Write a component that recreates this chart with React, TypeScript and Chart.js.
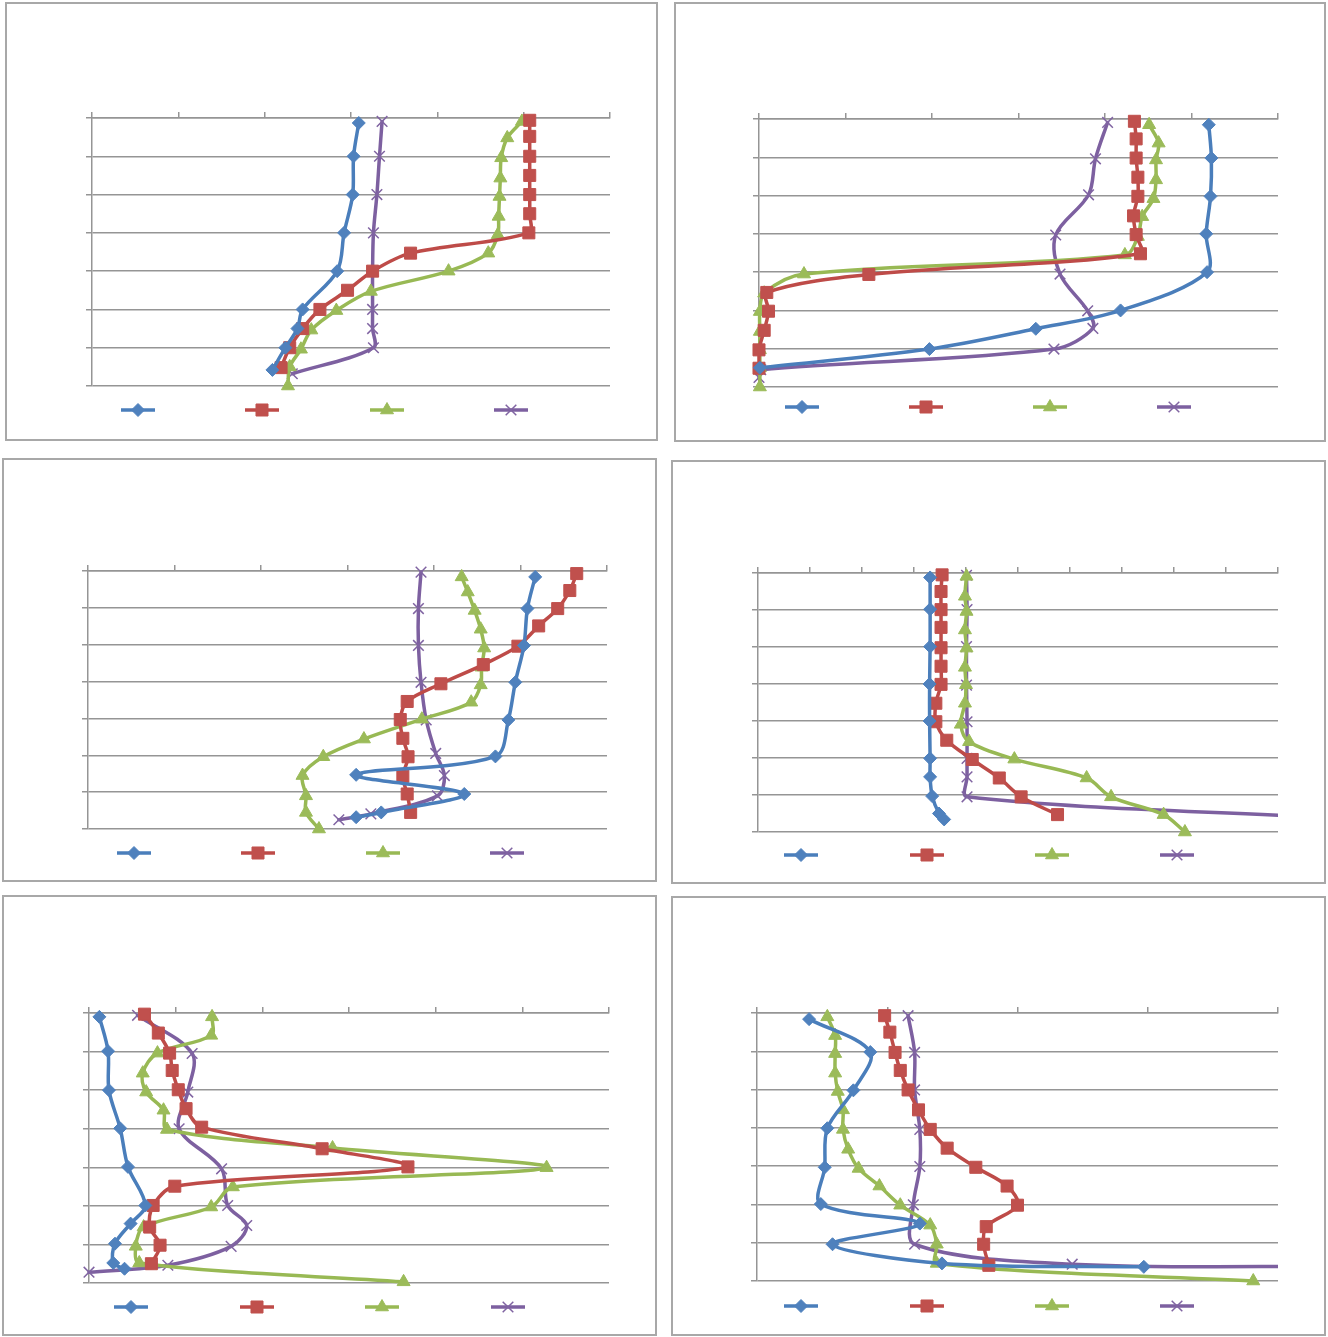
import React, { useEffect, useRef } from 'react';
import { Chart, registerables } from 'chart.js';
import { drawPoint } from 'chart.js/helpers';

Chart.register(...registerables);

// ---------- DATA (x in axis-interval units, y = depth in gridline units, 0 at top) ----------
const P1_BLUE = [[3.09,0.13],[3.03,1.0],[3.02,2.0],[2.92,3.0],[2.84,4.0],[2.44,5.0],[2.38,5.5],[2.24,6.0],[2.09,6.58]];
const P1_RED = [[5.07,0.06],[5.07,0.48],[5.07,1.0],[5.07,1.5],[5.07,2.0],[5.07,2.5],[5.06,3.0],[3.69,3.53],[3.25,4.0],[2.96,4.5],[2.64,5.0],[2.44,5.5],[2.29,6.0],[2.19,6.52]];
const P1_GREEN = [[4.98,0.09],[4.81,0.52],[4.74,1.04],[4.73,1.57],[4.72,2.05],[4.71,2.57],[4.70,3.05],[4.59,3.53],[4.13,4.0],[3.23,4.53],[2.83,5.03],[2.54,5.54],[2.42,6.04],[2.29,6.5],[2.27,7.0]];
const P1_PURPLE = [[3.36,0.09],[3.33,1.0],[3.30,2.0],[3.26,3.0],[3.25,4.0],[3.25,5.0],[3.25,5.5],[3.26,6.0],[2.32,6.68]];

const P2_BLUE = [[5.20,0.15],[5.23,1.02],[5.22,2.02],[5.17,3.0],[5.18,4.0],[4.18,5.0],[3.20,5.48],[1.97,6.01],[0.01,6.5]];
const P2_RED = [[4.34,0.06],[4.36,0.52],[4.36,1.02],[4.38,1.52],[4.38,2.02],[4.33,2.53],[4.36,3.02],[4.41,3.52],[1.27,4.06],[0.09,4.53],[0.11,5.02],[0.06,5.52],[0.0,6.03],[0.0,6.51]];
const P2_GREEN = [[4.51,0.15],[4.62,0.63],[4.59,1.07],[4.59,1.59],[4.56,2.08],[4.43,2.55],[4.38,3.07],[4.23,3.55],[0.52,4.05],[0.06,4.55],[0.01,5.03],[0.01,5.55],[0.01,6.03],[0.01,6.5],[0.01,7.0]];
const P2_PURPLE = [[4.03,0.09],[3.89,1.04],[3.81,1.98],[3.43,3.03],[3.48,4.05],[3.80,5.01],[3.86,5.47],[3.41,6.01],[0.02,6.55],[0.0,6.75]];

const P3_BLUE = [[5.17,0.16],[5.08,1.02],[5.04,2.02],[4.94,3.02],[4.86,4.04],[4.71,5.03],[3.10,5.53],[4.35,6.05],[3.39,6.55],[3.10,6.68]];
const P3_RED = [[5.65,0.07],[5.57,0.53],[5.43,1.02],[5.21,1.49],[4.97,2.04],[4.57,2.54],[4.08,3.06],[3.69,3.54],[3.61,4.03],[3.64,4.54],[3.70,5.04],[3.64,5.57],[3.69,6.05],[3.73,6.55]];
const P3_GREEN = [[4.32,0.16],[4.39,0.57],[4.47,1.07],[4.54,1.58],[4.58,2.09],[4.55,2.61],[4.54,3.09],[4.43,3.56],[3.86,4.02],[3.19,4.56],[2.72,5.04],[2.48,5.55],[2.52,6.1],[2.52,6.55],[2.67,7.0]];
const P3_PURPLE = [[3.85,0.03],[3.82,1.02],[3.82,2.02],[3.85,3.02],[3.91,4.04],[4.02,4.95],[4.12,5.55],[4.04,6.1],[3.27,6.59],[2.90,6.75]];

const P4_BLUE = [[3.31,0.12],[3.31,0.98],[3.31,1.99],[3.30,3.0],[3.30,4.0],[3.31,5.01],[3.31,5.51],[3.35,6.03],[3.48,6.5],[3.58,6.66]];
const P4_RED = [[3.54,0.05],[3.52,0.5],[3.52,0.99],[3.52,1.47],[3.52,2.02],[3.52,2.52],[3.52,3.01],[3.42,3.52],[3.42,4.02],[3.63,4.52],[4.12,5.04],[4.64,5.54],[5.06,6.05],[5.76,6.53]];
const P4_GREEN = [[4.01,0.09],[3.98,0.63],[4.01,1.04],[3.98,1.54],[4.01,2.03],[3.98,2.55],[4.0,3.02],[3.98,3.52],[3.90,4.09],[4.06,4.56],[4.93,5.03],[6.32,5.54],[6.79,6.05],[7.80,6.53],[8.21,7.0]];
const P4_PURPLE = [[4.01,0.06],[4.02,0.99],[4.01,1.99],[4.01,3.03],[4.02,4.02],[4.02,5.01],[4.02,5.51],[4.02,6.05],[11.0,6.62]];

const P5_BLUE = [[0.12,0.10],[0.22,0.99],[0.23,2.0],[0.36,2.99],[0.45,3.99],[0.65,4.99],[0.48,5.46],[0.30,5.98],[0.28,6.48],[0.41,6.63]];
const P5_RED = [[0.64,0.03],[0.80,0.52],[0.93,1.04],[0.96,1.49],[1.03,1.99],[1.12,2.48],[1.30,2.96],[2.69,3.52],[3.68,3.99],[0.99,4.49],[0.74,4.99],[0.70,5.55],[0.82,6.02],[0.72,6.5]];
const P5_GREEN = [[1.42,0.10],[1.41,0.58],[0.79,1.04],[0.62,1.56],[0.66,2.05],[0.86,2.52],[0.90,3.02],[2.81,3.5],[5.28,4.01],[1.66,4.51],[1.41,5.03],[0.63,5.55],[0.54,6.05],[0.58,6.48],[3.63,6.97]];
const P5_PURPLE = [[0.56,0.06],[1.19,1.05],[1.14,2.05],[1.04,3.0],[1.53,4.04],[1.60,4.99],[1.82,5.51],[1.64,6.05],[0.91,6.54],[0.0,6.72]];

const P6_BLUE = [[0.40,0.16],[0.87,1.02],[0.74,2.02],[0.54,3.01],[0.52,4.03],[0.49,4.99],[1.25,5.5],[0.58,6.04],[1.42,6.54],[2.97,6.63]];
const P6_RED = [[0.98,0.07],[1.02,0.5],[1.06,1.03],[1.10,1.5],[1.16,2.01],[1.24,2.53],[1.33,3.04],[1.46,3.53],[1.68,4.03],[1.92,4.52],[2.00,5.02],[1.76,5.58],[1.74,6.04],[1.78,6.59]];
const P6_GREEN = [[0.54,0.10],[0.60,0.59],[0.60,1.06],[0.60,1.57],[0.62,2.05],[0.66,2.53],[0.66,3.04],[0.70,3.56],[0.78,4.06],[0.94,4.52],[1.10,5.02],[1.33,5.54],[1.38,6.04],[1.38,6.54],[3.81,7.0]];
const P6_PURPLE = [[1.16,0.07],[1.21,1.03],[1.21,2.01],[1.25,3.04],[1.25,4.01],[1.20,5.01],[1.21,6.04],[2.42,6.56],[4.6,6.62]];

const SERIES_NAMES = ['Series 1', 'Series 2', 'Series 3', 'Series 4'];
const X_INTERVALS = [6, 6, 6, 10, 6, 4];
const Y_INTERVALS = 7;

// ---------- STYLE / LAYOUT ----------
const SERIES_STYLE = [
  { line: '#4A7EBB', fill: '#4F81BD', point: 'rectRot', radius: 6.5, bw: 1 },
  { line: '#BE4B48', fill: '#C0504D', point: 'rect', radius: 8.5, bw: 1 },
  { line: '#98B954', fill: '#9BBB59', point: 'triangle', radius: 7.5, bw: 1 },
  { line: '#7D60A0', fill: '#8064A2', point: 'crossRot', radius: 7.5, bw: 1.5 },
];
const GRID = '#959595';

type Panel = {
  data: number[][][];
  xMax: number;
  box: [number, number, number, number]; // left, top, right, bottom (page)
  plot: [number, number, number, number];
  legendY: number;
  legendXs: number[];
};

const PANELS: Panel[] = [
  { data: [P1_BLUE, P1_RED, P1_GREEN, P1_PURPLE], xMax: X_INTERVALS[0], box: [5, 2, 658, 441], plot: [92, 118, 610, 386], legendY: 410, legendXs: [138, 262, 387, 511] },
  { data: [P2_BLUE, P2_RED, P2_GREEN, P2_PURPLE], xMax: X_INTERVALS[1], box: [674, 2, 1326, 442], plot: [759, 119, 1278, 387], legendY: 407, legendXs: [802, 926, 1050, 1174] },
  { data: [P3_BLUE, P3_RED, P3_GREEN, P3_PURPLE], xMax: X_INTERVALS[2], box: [2, 458, 657, 882], plot: [88, 571, 607, 829], legendY: 853, legendXs: [134, 258, 383, 507] },
  { data: [P4_BLUE, P4_RED, P4_GREEN, P4_PURPLE], xMax: X_INTERVALS[3], box: [671, 460, 1326, 884], plot: [758, 573, 1278, 832], legendY: 855, legendXs: [801, 927, 1052, 1177] },
  { data: [P5_BLUE, P5_RED, P5_GREEN, P5_PURPLE], xMax: X_INTERVALS[4], box: [2, 895, 657, 1336], plot: [89, 1013, 609, 1283], legendY: 1307, legendXs: [131, 257, 382, 508] },
  { data: [P6_BLUE, P6_RED, P6_GREEN, P6_PURPLE], xMax: X_INTERVALS[5], box: [671, 896, 1326, 1336], plot: [757, 1013, 1278, 1281], legendY: 1306, legendXs: [801, 927, 1052, 1177] },
];

const sampleLegend = {
  id: 'sampleLegend',
  afterDraw(chart: any, _args: any, opts: any) {
    const ctx = chart.ctx;
    chart.data.datasets.forEach((ds: any, i: number) => {
      const cx = opts.xs[i];
      const cy = opts.y;
      ctx.save();
      ctx.strokeStyle = ds.borderColor;
      ctx.lineWidth = ds.borderWidth;
      ctx.beginPath();
      ctx.moveTo(cx - 17, cy);
      ctx.lineTo(cx + 17, cy);
      ctx.stroke();
      ctx.fillStyle = ds.pointBackgroundColor;
      ctx.strokeStyle = ds.pointBorderColor;
      ctx.lineWidth = ds.pointBorderWidth;
      drawPoint(ctx, { pointStyle: ds.pointStyle, radius: ds.pointRadius, rotation: 0, borderWidth: ds.pointBorderWidth }, cx, cy);
      ctx.restore();
    });
  },
};

function PanelChart({ p }: { p: Panel }) {
  const ref = useRef<HTMLCanvasElement>(null);
  const [bl, bt, br, bb] = p.box;
  const w = br - bl;
  const h = bb - bt;
  useEffect(() => {
    const [pl, pt, pr, pb] = p.plot;
    const leftW = pl - bl;
    const topH = pt - bt;
    const chart = new Chart(ref.current!, {
      type: 'scatter',
      data: {
        datasets: p.data.map((pts, i) => {
          const s = SERIES_STYLE[i];
          return {
            label: SERIES_NAMES[i],
            data: pts.map(([x, y]) => ({ x, y })),
            showLine: true,
            borderColor: s.line,
            borderWidth: 3.5,
            borderJoinStyle: 'round',
            borderCapStyle: 'round',
            tension: 0.33,
            pointStyle: s.point as any,
            pointRadius: s.radius,
            pointBackgroundColor: s.fill,
            pointBorderColor: s.fill,
            pointBorderWidth: s.bw,
            clip: { left: 12, top: 12, bottom: 12, right: 0 },
          } as any;
        }),
      },
      options: {
        animation: false,
        responsive: false,
        events: [],
        layout: { padding: { left: 0, top: 0, right: w - (pr - bl), bottom: h - (pb - bt) }, autoPadding: false } as any,
        plugins: {
          legend: { display: false },
          tooltip: { enabled: false },
          sampleLegend: { y: p.legendY - bt, xs: p.legendXs.map((x) => x - bl) },
        } as any,
        scales: {
          x: {
            type: 'linear',
            position: 'top',
            min: 0,
            max: p.xMax,
            ticks: { display: false, stepSize: 1 },
            grid: { drawOnChartArea: false, drawTicks: true, tickLength: 6, color: GRID, lineWidth: 1.5 },
            border: { display: true, color: GRID, width: 1.5 },
            afterFit: (s: any) => { s.height = topH; },
          },
          y: {
            type: 'linear',
            reverse: true,
            min: 0,
            max: Y_INTERVALS,
            ticks: { display: false, stepSize: 1 },
            grid: { color: GRID, lineWidth: 1.5, tickLength: 6, drawTicks: true },
            border: { display: true, color: GRID, width: 1.5 },
            afterFit: (s: any) => { s.width = leftW; },
          },
        } as any,
      },
      plugins: [sampleLegend],
    });
    return () => chart.destroy();
  }, [p]);
  return (
    <>
      <div style={{ position: 'absolute', left: bl, top: bt, width: w, height: h, boxSizing: 'border-box', border: '2px solid #a8a8a8', background: '#fff' }} />
      <canvas ref={ref} width={w} height={h} style={{ position: 'absolute', left: bl, top: bt, width: w, height: h }} />
    </>
  );
}

export default function App() {
  return (
    <div style={{ position: 'fixed', left: 0, top: 0, width: 1328, height: 1337, background: '#fff', overflow: 'hidden' }}>
      {PANELS.map((p, i) => (
        <PanelChart key={i} p={p} />
      ))}
    </div>
  );
}
